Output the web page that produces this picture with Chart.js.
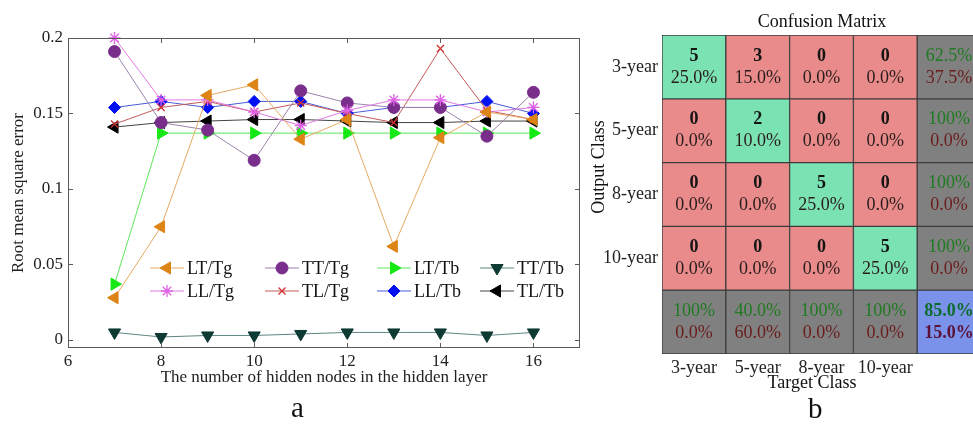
<!DOCTYPE html>
<html>
<head>
<meta charset="utf-8">
<script src="https://cdn.jsdelivr.net/npm/chart.js@4.4.1/dist/chart.umd.min.js"></script>
<style>
    html, body { margin: 0; padding: 0; background: #fff; overflow: hidden; }
    #wrap { position: relative; width: 973px; height: 424px; overflow: hidden; }
    #lineChart { position: absolute; left: 0; top: 0; }
    #cmChart { position: absolute; left: 580px; top: 0; }
    .tag { position: absolute; font-family: "Liberation Serif", "Times New Roman", serif; font-size: 29px; color: #111; line-height: 1; }
</style>
</head>
<body>
<div id="wrap">
    <canvas id="lineChart" width="590" height="424"></canvas>
    <canvas id="cmChart" width="410" height="424"></canvas>
    <div class="tag" style="left:291px; top:393px;">a</div>
    <div class="tag" style="left:808px; top:394px;">b</div>
</div>
<script>
// 面板 a：隱藏層節點數與均方根誤差
const nodes = [7, 8, 9, 10, 11, 12, 13, 14, 15, 16];
const ltTg = [0.028, 0.075, 0.162, 0.169, 0.133, 0.146, 0.062, 0.134, 0.151, 0.146];
const llTg = [0.200, 0.159, 0.159, 0.151, 0.142, 0.152, 0.159, 0.159, 0.151, 0.154];
const ttTg = [0.191, 0.144, 0.139, 0.119, 0.165, 0.157, 0.154, 0.154, 0.135, 0.164];
const tlTg = [0.143, 0.154, 0.158, 0.151, 0.157, 0.150, 0.144, 0.193, 0.152, 0.146];
const ltTb = [0.037, 0.137, 0.137, 0.137, 0.137, 0.137, 0.137, 0.137, 0.137, 0.137];
const llTb = [0.154, 0.158, 0.154, 0.158, 0.158, 0.150, 0.154, 0.154, 0.158, 0.150];
const ttTb = [0.005, 0.002, 0.003, 0.003, 0.004, 0.005, 0.005, 0.005, 0.003, 0.005];
const tlTb = [0.141, 0.144, 0.145, 0.146, 0.146, 0.145, 0.144, 0.144, 0.145, 0.145];
const xTicks = [6, 8, 10, 12, 14, 16];
const yTicks = [0, 0.05, 0.1, 0.15, 0.2];

// 面板 b：混淆矩陣
const rowLabels = ['3-year', '5-year', '8-year', '10-year'];
const colLabels = ['3-year', '5-year', '8-year', '10-year'];
const counts = [
    [5, 3, 0, 0],
    [0, 2, 0, 0],
    [0, 0, 5, 0],
    [0, 0, 0, 5]
];

const SERIF = '"Liberation Serif", "Times New Roman", serif';

function pts(values) {
    return values.map((v, i) => ({ x: nodes[i], y: v }));
}

function series(label, values, line, mark, style, rotation, radius) {
    return {
        label: label,
        data: pts(values),
        borderColor: line,
        backgroundColor: mark,
        borderWidth: 1,
        pointStyle: style,
        pointRotation: rotation,
        pointRadius: radius,
        pointBackgroundColor: mark,
        pointBorderColor: mark,
        pointBorderWidth: (style === 'star' || style === 'crossRot') ? 1.3 : 1,
        tension: 0,
        clip: false
    };
}

// 邊框與向內刻度
const framePlugin = {
    id: 'frame',
    afterDatasetsDraw(chart) {
        const { ctx, chartArea: a, scales: { x, y } } = chart;
        ctx.save();
        ctx.strokeStyle = '#5a5a5a';
        ctx.lineWidth = 1;
        ctx.strokeRect(a.left + 0.5, a.top + 0.5, a.right - a.left - 1, a.bottom - a.top - 1);
        ctx.beginPath();
        x.ticks.forEach(t => {
            const px = Math.round(x.getPixelForValue(t.value)) + 0.5;
            ctx.moveTo(px, a.bottom); ctx.lineTo(px, a.bottom - 5);
            ctx.moveTo(px, a.top); ctx.lineTo(px, a.top + 5);
        });
        y.ticks.forEach(t => {
            const py = Math.round(y.getPixelForValue(t.value)) + 0.5;
            ctx.moveTo(a.left, py); ctx.lineTo(a.left + 5, py);
            ctx.moveTo(a.right, py); ctx.lineTo(a.right - 5, py);
        });
        ctx.stroke();
        ctx.restore();
    }
};

// 圖例：兩列四欄
const legendPlugin = {
    id: 'gridLegend',
    afterDraw(chart) {
        const { ctx } = chart;
        const colX = [150, 265, 377, 480];
        const rowY = [268, 291];
        ctx.save();
        ctx.font = '18px ' + SERIF;
        ctx.textBaseline = 'middle';
        ctx.fillStyle = '#111';
        chart.data.datasets.forEach((ds, i) => {
            const x0 = colX[Math.floor(i / 2)];
            const y0 = rowY[i % 2];
            ctx.strokeStyle = ds.borderColor;
            ctx.lineWidth = 1;
            ctx.beginPath();
            ctx.moveTo(x0, y0); ctx.lineTo(x0 + 34, y0);
            ctx.stroke();
            ctx.fillStyle = ds.pointBackgroundColor;
            ctx.strokeStyle = ds.pointBorderColor;
            ctx.lineWidth = ds.pointBorderWidth;
            Chart.helpers.drawPoint(ctx, {
                pointStyle: ds.pointStyle,
                rotation: ds.pointRotation,
                radius: ds.pointRadius,
                borderWidth: ds.pointBorderWidth
            }, x0 + 17, y0);
            ctx.fillStyle = '#111';
            ctx.fillText(ds.label, x0 + 37, y0 + 1);
        });
        ctx.restore();
    }
};

new Chart(document.getElementById('lineChart'), {
    type: 'line',
    data: {
        datasets: [
            series('LT/Tg', ltTg, '#E8A962', '#DD8416', 'triangle', -90, 7),
            series('LL/Tg', llTg, '#E27AE2', '#E060E6', 'star', 0, 6),
            series('TT/Tg', ttTg, '#9C84AC', '#7A2E8C', 'circle', 0, 6),
            series('TL/Tg', tlTg, '#C45A5A', '#D03030', 'crossRot', 0, 5),
            series('LT/Tb', ltTb, '#5CE65C', '#16E816', 'triangle', 90, 7),
            series('LL/Tb', llTb, '#4A5CD8', '#0010F5', 'rectRot', 0, 6),
            series('TT/Tb', ttTb, '#5E8582', '#0E3A34', 'triangle', 180, 7),
            series('TL/Tb', tlTb, '#444444', '#000000', 'triangle', -90, 7)
        ]
    },
    options: {
        responsive: false,
        animation: false,
        events: [],
        layout: { padding: { left: 0, top: 38, right: 10, bottom: 26 } },
        plugins: { legend: { display: false }, tooltip: { enabled: false } },
        scales: {
            x: {
                type: 'linear',
                min: 6,
                max: 17,
                afterBuildTicks(s) { s.ticks = xTicks.map(v => ({ value: v })); },
                afterFit(s) { s.height = 50; },
                grid: { display: false, drawTicks: false },
                border: { display: false },
                ticks: { color: '#222', padding: 3, autoSkip: false, maxRotation: 0, font: { family: SERIF, size: 17 } },
                title: {
                    display: true,
                    text: 'The number of hidden nodes in the hidden layer',
                    color: '#222',
                    padding: { top: 0, bottom: 10 },
                    font: { family: SERIF, size: 17 }
                }
            },
            y: {
                min: -0.0053,
                max: 0.2,
                afterBuildTicks(s) { s.ticks = yTicks.map(v => ({ value: v })); },
                afterFit(s) { s.width = 68; },
                grid: { display: false, drawTicks: false },
                border: { display: false },
                ticks: {
                    color: '#222',
                    padding: 5,
                    autoSkip: false,
                    font: { family: SERIF, size: 17 },
                    callback: v => String(Math.round(v * 100) / 100)
                },
                title: {
                    display: true,
                    text: 'Root mean square error',
                    color: '#222',
                    padding: { top: 8, bottom: 0 },
                    font: { family: SERIF, size: 17 }
                }
            }
        }
    },
    plugins: [framePlugin, legendPlugin]
});

// 混淆矩陣
const GREEN = '#7AE2B3';
const RED = '#E88B8A';
const GRAY = '#808080';
const BLUE = '#7A92EA';

function pctText(v) {
    return v === 100 ? '100%' : v.toFixed(1) + '%';
}

const total = counts.flat().reduce((s, v) => s + v, 0);
const rowSums = counts.map(r => r.reduce((s, v) => s + v, 0));
const colSums = colLabels.map((_, c) => counts.reduce((s, r) => s + r[c], 0));
const correct = counts.reduce((s, r, i) => s + r[i], 0);

function cellInfo(r, c) {
    const n = rowLabels.length;
    if (r < n && c < n) {
        return { color: r === c ? GREEN : RED, top: String(counts[r][c]), bottom: pctText(counts[r][c] / total * 100), bold: true, kind: 'main' };
    }
    let ok;
    if (r < n) ok = counts[r][r] / rowSums[r] * 100;
    else if (c < n) ok = counts[c][c] / colSums[c] * 100;
    else ok = correct / total * 100;
    const corner = r === n && c === n;
    return { color: corner ? BLUE : GRAY, top: pctText(ok), bottom: pctText(100 - ok), bold: corner, kind: 'summary' };
}

const cmDatasets = [0, 1, 2, 3, 4].map(r => ({
    label: r < rowLabels.length ? rowLabels[r] : 'summary',
    data: [1, 1, 1, 1, 1],
    backgroundColor: [0, 1, 2, 3, 4].map(c => cellInfo(r, c).color),
    borderColor: '#3c3c3c',
    borderWidth: 1,
    borderSkipped: false,
    barPercentage: 1,
    categoryPercentage: 1
}));

const cellTextPlugin = {
    id: 'cellText',
    afterDatasetsDraw(chart) {
        const { ctx } = chart;
        ctx.save();
        ctx.textAlign = 'center';
        ctx.textBaseline = 'middle';
        chart.data.datasets.forEach((ds, r) => {
            chart.getDatasetMeta(r).data.forEach((el, c) => {
                const p = el.getProps(['x', 'y', 'base'], true);
                const cy = (p.y + p.base) / 2;
                const info = cellInfo(r, c);
                if (info.kind === 'main') {
                    ctx.font = 'bold 18px ' + SERIF;
                    ctx.fillStyle = '#141414';
                    ctx.fillText(info.top, p.x, cy - 11);
                    ctx.font = '18px ' + SERIF;
                    ctx.fillStyle = '#2a1c1c';
                    ctx.fillText(info.bottom, p.x, cy + 11);
                } else {
                    ctx.font = (info.bold ? 'bold ' : '') + '18px ' + SERIF;
                    ctx.fillStyle = info.bold ? '#0E6B2E' : '#1F7A22';
                    ctx.fillText(info.top, p.x, cy - 11);
                    ctx.fillStyle = info.bold ? '#5A1238' : '#6A1C1C';
                    ctx.fillText(info.bottom, p.x, cy + 11);
                }
            });
        });
        // 標題與座標軸名稱
        ctx.fillStyle = '#111';
        ctx.font = '18px ' + SERIF;
        ctx.fillText('Confusion Matrix', 242, 22);
        ctx.fillText('Target Class', 232, 383);
        ctx.translate(19, 167);
        ctx.rotate(-Math.PI / 2);
        ctx.fillText('Output Class', 0, 0);
        ctx.restore();
    }
};

new Chart(document.getElementById('cmChart'), {
    type: 'bar',
    data: { labels: [...colLabels, ''], datasets: cmDatasets },
    options: {
        responsive: false,
        animation: false,
        events: [],
        layout: { padding: { left: 0, top: 35, right: 9, bottom: 40 } },
        plugins: { legend: { display: false }, tooltip: { enabled: false } },
        scales: {
            x: {
                stacked: true,
                afterFit(s) { s.height = 30; },
                grid: { display: false, drawTicks: false },
                border: { display: false },
                ticks: { color: '#222', padding: 3, autoSkip: false, maxRotation: 0, font: { family: SERIF, size: 18 } }
            },
            y: {
                stacked: true,
                reverse: true,
                min: 0,
                max: 5,
                afterBuildTicks(s) { s.ticks = [0.5, 1.5, 2.5, 3.5].map(v => ({ value: v })); },
                afterFit(s) { s.width = 82; },
                grid: { display: false, drawTicks: false },
                border: { display: false },
                ticks: {
                    color: '#222',
                    padding: 4,
                    autoSkip: false,
                    font: { family: SERIF, size: 18 },
                    callback: (v, i) => rowLabels[i]
                }
            }
        }
    },
    plugins: [cellTextPlugin]
});
</script>
</body>
</html>
